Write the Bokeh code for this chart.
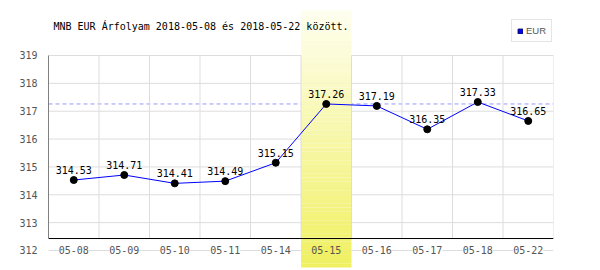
from bokeh.plotting import figure
from bokeh.models import (FactorRange, Range1d, ColumnDataSource, FixedTicker,
                          Span, Label, Legend, LegendItem)
from bokeh.transform import dodge
from bokeh.core.properties import value
from bokeh.embed import file_html
from bokeh.resources import INLINE

# ---- data ----
dates = ["05-08", "05-09", "05-10", "05-11", "05-14",
         "05-15", "05-16", "05-17", "05-18", "05-22"]
rates = [314.53, 314.71, 314.41, 314.49, 315.15,
         317.26, 317.19, 316.35, 317.33, 316.65]
highlight_date = "05-15"
y_ticks = [312, 313, 314, 315, 316, 317, 318, 319]
title_text = "MNB EUR Árfolyam 2018-05-08 és 2018-05-22 között."
series_name = "EUR"

# ---- style ----
MONO = value("DejaVu Sans Mono")
Y_LO, Y_HI = 311.282, 320.974
AXIS_Y = 312.43
BAND_BOTTOM, BAND_TOP = 311.39, 320.62
GRID = "#dddddd"
LABEL_GRAY = "#555555"

p = figure(width=600, height=270, output_backend="svg", toolbar_location=None,
           x_range=FactorRange(factors=dates), y_range=Range1d(Y_LO, Y_HI),
           x_axis_location=None, min_border_left=48, min_border_right=47,
           min_border_top=0, min_border_bottom=0, outline_line_color=None)
p.xgrid.visible = False
p.ygrid.visible = False

ax = p.yaxis[0]
ax.ticker = FixedTicker(ticks=y_ticks)
ax.axis_line_color = None
ax.major_tick_line_color = None
ax.minor_tick_line_color = None
ax.major_label_standoff = 5
ax.major_label_text_font = "DejaVu Sans Mono"
ax.major_label_text_font_size = "10px"
ax.major_label_text_color = LABEL_GRAY

# horizontal grid lines
for t in y_ticks:
    p.add_layout(Span(location=t, dimension="width", line_color=GRID,
                      line_width=1, level="underlay"))

# reference dashed line at highlighted day's value
hv = rates[dates.index(highlight_date)]
p.add_layout(Span(location=hv, dimension="width", line_color="#9999ff",
                  line_width=1, line_dash="4 3", level="underlay"))

# highlighted band with vertical gradient
n = 60
top_c = (254, 254, 238)
bot_c = (240, 240, 98)
bands = {"cat": [], "bottom": [], "top": [], "color": []}
step = (BAND_TOP - BAND_BOTTOM) / n
for i in range(n):
    f = i / (n - 1)
    c = tuple(int(round(bot_c[k] + (top_c[k] - bot_c[k]) * f)) for k in range(3))
    bands["cat"].append(highlight_date)
    bands["bottom"].append(BAND_BOTTOM + i * step)
    bands["top"].append(BAND_BOTTOM + (i + 1) * step + 0.002)
    bands["color"].append("#%02x%02x%02x" % c)
bsrc = ColumnDataSource(bands)
p.quad(left=dodge("cat", -0.5, range=p.x_range), right=dodge("cat", 0.5, range=p.x_range),
       bottom="bottom", top="top", fill_color="color", line_color=None, source=bsrc)

# vertical grid lines (category boundaries)
vsrc = ColumnDataSource(dict(cat=dates, y0=[AXIS_Y] * len(dates), y1=[y_ticks[-1]] * len(dates)))
p.segment(x0=dodge("cat", 0.5, range=p.x_range), x1=dodge("cat", 0.5, range=p.x_range),
          y0="y0", y1="y1", line_color=GRID, line_width=1, source=vsrc)

# black axes
p.add_layout(Span(location=AXIS_Y, dimension="width", line_color="black", line_width=1))
lsrc = ColumnDataSource(dict(cat=[dates[0]], y0=[AXIS_Y], y1=[y_ticks[-1]]))
p.segment(x0=dodge("cat", -0.5, range=p.x_range), x1=dodge("cat", -0.5, range=p.x_range),
          y0="y0", y1="y1", line_color="black", line_width=1, source=lsrc)

# x labels
xl = ColumnDataSource(dict(cat=dates, y=[y_ticks[0]] * len(dates),
                           bg=["#f0f062" if d == highlight_date else "white" for d in dates]))
p.text(x="cat", y="y", text="cat", source=xl, text_font=MONO, text_font_size="10px",
       text_color=LABEL_GRAY, text_align="center", text_baseline="middle",
       background_fill_color="bg")

# data
src = ColumnDataSource(dict(date=dates, rate=rates, lbl=["%.2f" % r for r in rates]))
p.line(x="date", y="rate", source=src, line_color="blue", line_width=1)
p.scatter(x="date", y="rate", source=src, size=7, fill_color="black", line_color="black")
p.text(x="date", y="rate", text="lbl", source=src, text_font=MONO, text_font_size="10px",
       text_color="black", text_align="center", text_baseline="bottom", y_offset=-6)

# title
p.add_layout(Label(x=5, y=244, x_units="screen", y_units="screen", text=title_text,
                   text_font="DejaVu Sans Mono", text_font_size="10px",
                   text_color="black", text_baseline="middle"))

# legend (proxy area renderer placed outside the visible range)
leg_src = ColumnDataSource(dict(x=[dates[0]], b=[Y_LO - 60], t=[Y_LO - 50]))
r_leg = p.quad(left=dodge("x", -0.1, range=p.x_range), right=dodge("x", 0.1, range=p.x_range),
               bottom="b", top="t", source=leg_src,
               fill_color="blue", line_color="#000066", line_width=1)
legend = Legend(items=[LegendItem(label=series_name, renderers=[r_leg])],
                location=(463, 228), margin=0, padding=5, spacing=0,
                glyph_width=6, glyph_height=6, label_standoff=3,
                label_width=16, label_height=10,
                label_text_font="Liberation Sans", label_text_font_size="9.5px",
                label_text_color=LABEL_GRAY, label_text_baseline="middle",
                border_line_color="#cccccc", border_line_width=1,
                background_fill_color="white", background_fill_alpha=1)
p.add_layout(legend)

open("out.html", "w").write(file_html(p, INLINE))
